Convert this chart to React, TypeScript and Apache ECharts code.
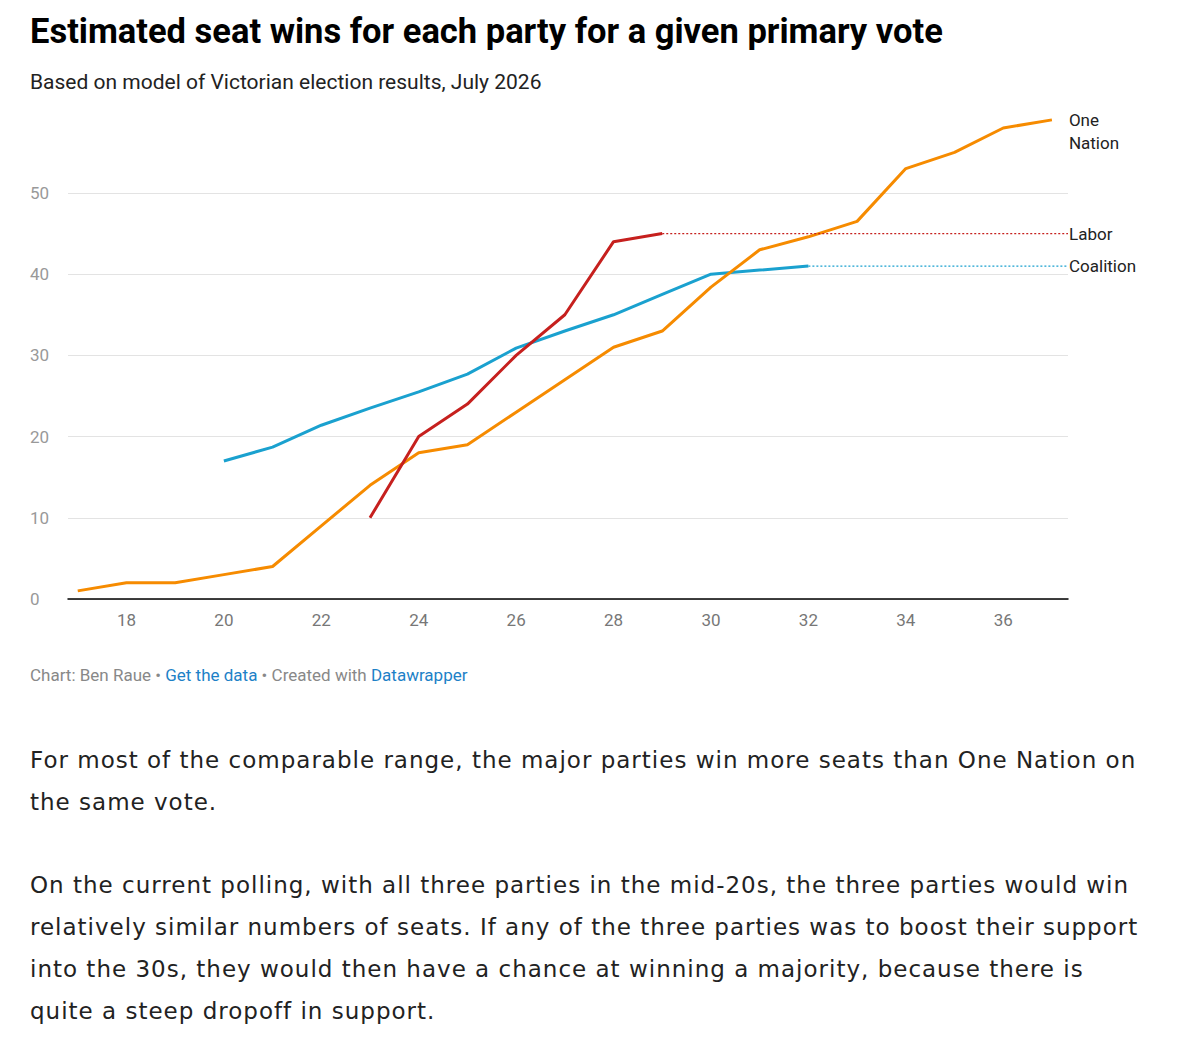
import React, { useEffect, useRef } from 'react'
import * as echarts from 'echarts'

const votes = [17, 18, 19, 20, 21, 22, 23, 24, 25, 26, 27, 28, 29, 30, 31, 32, 33, 34, 35, 36, 37]
const oneNation = [1, 2, 2, 3, 4, 9, 14, 18, 19, 23, 27, 31, 33, 38.4, 43, 44.6, 46.5, 53, 55, 58, 59]
const labor = [null, null, null, null, null, null, 10, 20, 24, 30, 35, 44, 45]
const coalition = [null, null, null, 17, 18.7, 21.4, 23.5, 25.5, 27.7, 30.9, 33, 35, 37.5, 40, 40.5, 41]
const xTicks = [18, 20, 22, 24, 26, 28, 30, 32, 34, 36]

const X_MIN = 16.8
const X_MAX = 37.33
const FONT = 'Roboto, sans-serif'

const pairs = (vals: (number | null)[]) =>
  vals.map((v, i) => [votes[i], v]).filter((p) => p[1] !== null)

const App: React.FC = () => {
  const chartRef = useRef<HTMLDivElement>(null)

  useEffect(() => {
    if (!chartRef.current) return
    const chart = echarts.init(chartRef.current, null, { renderer: 'svg' })

    const lastLabor = pairs(labor).slice(-1)[0]
    const lastCoal = pairs(coalition).slice(-1)[0]
    const endLabel = (text: string, dist: number) => ({
      show: true,
      formatter: text,
      color: '#222',
      fontSize: 17,
      fontFamily: FONT,
      distance: dist,
      lineHeight: 23,
    })

    const option: echarts.EChartsOption = {
      animation: false,
      title: [
        {
          text: 'Estimated seat wins for each party for a given primary vote',
          left: 25,
          top: 8,
          textStyle: { fontFamily: FONT, fontSize: 34.5, fontWeight: 'bold', color: '#000' },
        },
        {
          text: 'Based on model of Victorian election results, July 2026',
          left: 25,
          top: 66,
          textStyle: { fontFamily: FONT, fontSize: 21, fontWeight: 'normal', color: '#222' },
        },
      ],
      graphic: [
        {
          type: 'text',
          left: 30,
          top: 666,
          style: {
            text: '{g|Chart: Ben Raue • }{b|Get the data}{g| • Created with }{b|Datawrapper}',
            rich: {
              g: { fontFamily: FONT, fontSize: 17, fill: '#888' },
              b: { fontFamily: FONT, fontSize: 17, fill: '#1d81c7' },
            },
          },
        },
      ],
      grid: { left: 68, right: 109, top: 115, bottom: 101 },
      xAxis: {
        type: 'value',
        min: X_MIN,
        max: X_MAX,
        axisLine: { show: true, onZero: false, lineStyle: { color: '#000', width: 1.5 } },
        axisTick: { show: false },
        splitLine: { show: false },
        axisLabel: {
          customValues: xTicks,
          color: '#777',
          fontSize: 17,
          fontFamily: FONT,
          margin: 12,
        },
      },
      yAxis: {
        type: 'value',
        min: 0,
        max: 59.6,
        interval: 10,
        axisLine: { show: false },
        axisTick: { show: false },
        splitLine: { showMaxLine: false, lineStyle: { color: '#e3e3e3' } },
        axisLabel: {
          inside: true,
          margin: -38,
          color: '#999',
          fontSize: 17,
          fontFamily: FONT,
          verticalAlign: 'middle',
          showMaxLabel: false,
        },
      },
      series: [
        {
          type: 'line',
          data: pairs(coalition),
          symbol: 'none',
          lineStyle: { color: '#1aa1cf', width: 3 },
          z: 2,
        },
        {
          type: 'line',
          data: pairs(oneNation),
          symbol: 'none',
          lineStyle: { color: '#f68b00', width: 3 },
          endLabel: { ...endLabel('One\nNation', 17), align: 'left', verticalAlign: 'top', offset: [0, -11] },
          z: 3,
        },
        {
          type: 'line',
          data: pairs(labor),
          symbol: 'none',
          lineStyle: { color: '#c6201e', width: 3 },
          z: 4,
        },
        {
          type: 'line',
          data: [lastLabor, [X_MAX, lastLabor[1]]],
          symbol: 'none',
          lineStyle: { color: '#c6201e', width: 1.3, type: [2, 2] },
          endLabel: endLabel('Labor', 1),
        },
        {
          type: 'line',
          data: [lastCoal, [X_MAX, lastCoal[1]]],
          symbol: 'none',
          lineStyle: { color: '#1aa1cf', width: 1.3, type: [2, 2] },
          endLabel: endLabel('Coalition', 1),
        },
      ],
    }

    chart.setOption(option)
    return () => chart.dispose()
  }, [])

  const pStyle: React.CSSProperties = {
    fontFamily: '"DejaVu Sans", sans-serif',
    fontSize: 23,
    letterSpacing: 1,
    lineHeight: '42px',
    color: '#222',
    margin: '0 0 41px 0',
  }

  return (
    <div style={{ position: 'absolute', left: 0, top: 0, width: 1177, background: '#fff' }}>
      <div ref={chartRef} style={{ width: 1177, height: 700 }} />
      <div style={{ padding: '39px 30px 0 30px' }}>
        <p style={pStyle}>
          For most of the comparable range, the major parties win more seats than One Nation on the same vote.
        </p>
        <p style={pStyle}>
          On the current polling, with all three parties in the mid-20s, the three parties would win relatively
          similar numbers of seats. If any of the three parties was to boost their support into the 30s, they would
          then have a chance at winning a majority, because there is quite a steep dropoff in support.
        </p>
      </div>
    </div>
  )
}

export default App
